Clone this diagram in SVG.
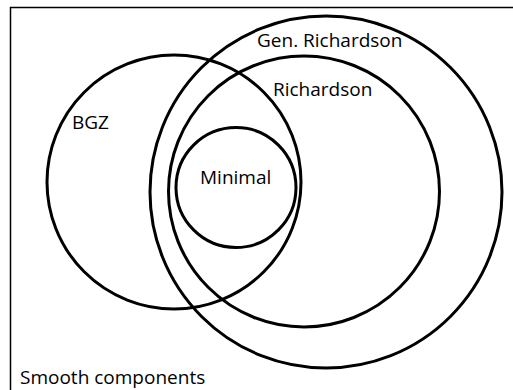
<svg xmlns="http://www.w3.org/2000/svg" width="513" height="390" viewBox="0 0 513 390">
<style>
.c{fill:none;stroke:#000;stroke-width:3}
.t{font-family:"Open Sans","DejaVu Sans",sans-serif;font-size:19px;fill:#000}
</style>
<rect x="0" y="0" width="513" height="390" fill="#fff"/>
<rect x="10.5" y="7.5" width="520" height="400" fill="none" stroke="#000" stroke-width="1.5"/>
<text class="t" x="20" y="384">Smooth components</text>
<g id="bgz"><circle class="c" cx="174" cy="182" r="127"/><text class="t" x="72" y="129">BGZ</text></g>
<g id="genrichardson"><circle class="c" cx="326" cy="192" r="176"/><text class="t" x="257" y="47">Gen. Richardson</text></g>
<g id="richardson"><circle class="c" cx="304" cy="191.5" r="135.5"/><text class="t" x="273" y="96">Richardson</text></g>
<g id="minimal"><circle class="c" cx="236" cy="187.5" r="60"/><text class="t" x="200" y="184">Minimal</text></g>
</svg>
